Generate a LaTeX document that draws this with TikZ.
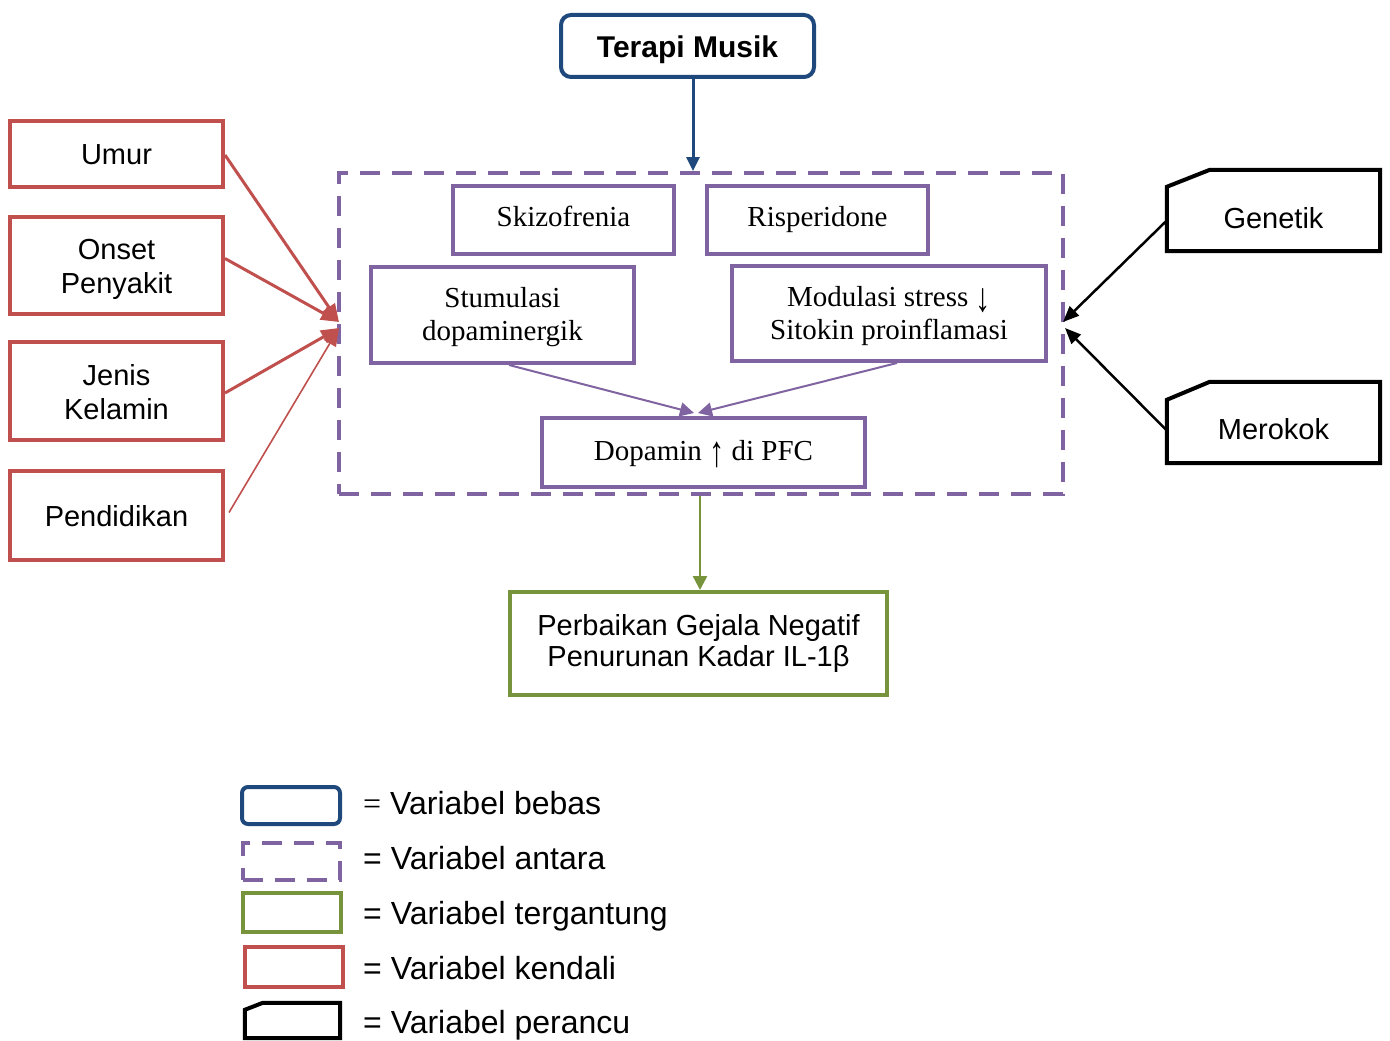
\documentclass[tikz,border=0pt]{standalone}
\usepackage{graphicx}
\usepackage{fontspec}
\setmainfont{Liberation Sans}
\newfontfamily\serif{Liberation Serif}
\usetikzlibrary{arrows.meta,calc}
\definecolor{cblue}{HTML}{1F497D}
\definecolor{cpurple}{HTML}{8064A2}
\definecolor{cgreen}{HTML}{77933C}
\definecolor{cred}{HTML}{C0504D}
% text line with zero size, caps centred on its baseline slot, shifted down by #1 pt
\newcommand{\ct}[2][0]{\raisebox{\dimexpr-\fontcharht\font72/2-#1pt\relax}[0pt][0pt]{#2}}
\newcommand{\uparr}{\raisebox{-6pt}{\scalebox{1.05}[1.5]{↑}}}
\newcommand{\downarr}{\raisebox{-5pt}{\scalebox{1.05}[1.4]{↓}}}
\begin{document}
\begin{tikzpicture}[x=1pt,y=-1pt,
  box/.style={draw,line width=4pt,inner sep=0pt,align=center,font=\fontsize{29}{34}\selectfont},
  ctrl/.style={box,draw=cred},
  inbox/.style={box,draw=cpurple,font=\serif\fontsize{29}{33}\selectfont},
  plain/.style={inner sep=0pt,align=center,font=\fontsize{29}{34}\selectfont},
  legtext/.style={inner sep=0pt,anchor=base west,font=\fontsize{32}{36}\selectfont},
  snipbox/.style={inner sep=0pt,draw=none},
  redarrow/.style={draw=cred,line width=3pt,-{Triangle[length=18pt,width=14pt]}},
  blackarrow/.style={draw=black,line width=2.5pt,-{Triangle[length=16pt,width=13pt]}},
  purplearrow/.style={draw=cpurple,line width=2pt,-{Triangle[length=14pt,width=14pt]}},
]
\useasboundingbox (0,0) rectangle (1390,1041);

% independent variable
\node[box,draw=cblue,rounded corners=10pt,minimum width=253pt,minimum height=62pt,
  font=\bfseries\fontsize{30}{34}\selectfont] (terapi) at (687.5,46) {\ct[1]{Terapi Musik}};

% intermediate (dashed) box
\node[draw=cpurple,line width=4pt,dash pattern=on 20pt off 12pt,inner sep=0pt,
  minimum width=724pt,minimum height=321pt] (med) at (701,333.5) {};

\node[inbox,minimum width=221pt,minimum height=68pt] (skizo) at (563.5,220) {\ct[-3.2]{Skizofrenia}};
\node[inbox,minimum width=221pt,minimum height=68pt] (risp) at (817.5,220) {\ct[-3]{Risperidone}};
\node[inbox,minimum width=263pt,minimum height=96pt] (stim) at (502.5,315) {\ct[-0.2]{Stumulasi}\\\ct[-0.2]{dopaminergik}};
\node[inbox,minimum width=314pt,minimum height=95pt] (modul) at (889,313.5) {\ct[-0.3]{Modulasi stress \downarr}\\\ct[-0.3]{Sitokin proinflamasi}};
\node[inbox,minimum width=323pt,minimum height=69pt] (dopa) at (703.5,452.5) {\ct[-1.5]{Dopamin \uparr{} di PFC}};

% dependent
\node[box,draw=cgreen,minimum width=377pt,minimum height=103pt,font=\fontsize{29}{31}\selectfont] (outc) at (698.5,643.5)
  {\ct[-2.5]{Perbaikan Gejala Negatif}\\\ct[-2.5]{Penurunan Kadar IL-1β}};

% control variables
\node[ctrl,minimum width=213pt,minimum height=66pt] (umur) at (116.5,154) {\ct[1]{Umur}};
\node[ctrl,minimum width=213pt,minimum height=97pt] (onset) at (116.5,265.5) {\ct[1.5]{Onset}\\\ct[1.5]{Penyakit}};
\node[ctrl,minimum width=213pt,minimum height=98pt] (jenis) at (116.5,391) {\ct[2]{Jenis}\\\ct[2]{Kelamin}};
\node[ctrl,minimum width=213pt,minimum height=89pt] (pend) at (116.5,515.5) {\ct[1.5]{Pendidikan}};

% confounders
\node[snipbox,minimum width=213pt,minimum height=81pt] (gen) at (1273.5,210.5) {};
\draw[line width=4pt,line join=miter] ($(gen.north west)+(0,17)$) -- ($(gen.north west)+(43,0)$)
  -- (gen.north east) -- (gen.south east) -- (gen.south west) -- cycle;
\node[plain] (gentxt) at (1273.5,219) {\ct{Genetik}};
\node[snipbox,minimum width=213pt,minimum height=81pt] (mer) at (1273.5,422.5) {};
\draw[line width=4pt,line join=miter] ($(mer.north west)+(0,18)$) -- ($(mer.north west)+(43,0)$)
  -- (mer.north east) -- (mer.south east) -- (mer.south west) -- cycle;
\node[plain] (mertxt) at (1273.5,430) {\ct{Merokok}};

% connector helper coordinates
\coordinate (bx) at (693,0);
\coordinate (gx) at (700,0);
\coordinate (tipL1) at (339,322);
\coordinate (tipL2) at (339,328);
\coordinate (tipR1) at (1063,322);
\coordinate (tipR2) at (1065,328);
\coordinate (tipD1) at (694,413);
\coordinate (tipD2) at (698,413);

% connectors
\draw[draw=cblue,line width=3pt,-{Triangle[length=14pt,width=13pt]}] (terapi.south -| bx) -- (med.north -| bx);
\draw[draw=cgreen,line width=2.5pt,-{Triangle[length=14pt,width=14pt]}] (med.south -| gx) -- (outc.north -| gx);
\draw[purplearrow] ($(stim.south)+(6.5,0)$) -- (tipD1);
\draw[purplearrow] ($(modul.south)+(8,0)$) -- (tipD2);
\draw[redarrow] ($(umur.east)+(0,1)$) -- (tipL1);
\draw[redarrow] ($(onset.east)+(0,-7)$) -- (tipL1);
\draw[redarrow] ($(jenis.east)+(0,2)$) -- (tipL2);
\draw[redarrow,line width=1.6pt] ($(pend.east)+(4,-3)$) -- (tipL2);
\draw[blackarrow] ($(gen.west)+(0,10)$) -- (tipR1);
\draw[blackarrow] ($(mer.west)+(0,8)$) -- (tipR2);

% legend
\node[draw=cblue,line width=4pt,rounded corners=6pt,minimum width=98pt,minimum height=37pt,inner sep=0pt] (lg1) at (291,805.5) {};
\node[draw=cpurple,line width=4pt,dash pattern=on 20pt off 12pt,minimum width=97pt,minimum height=37pt,inner sep=0pt] (lg2) at (291.5,861.5) {};
\node[draw=cgreen,line width=4pt,minimum width=98pt,minimum height=39pt,inner sep=0pt] (lg3) at (292,912.5) {};
\node[draw=cred,line width=4pt,minimum width=98pt,minimum height=40pt,inner sep=0pt] (lg4) at (294,967) {};
\node[snipbox,minimum width=95pt,minimum height=35pt] (lg5) at (292.5,1020.5) {};
\draw[line width=4pt,line join=miter] ($(lg5.north west)+(0,7)$) -- ($(lg5.north west)+(18,0)$)
  -- (lg5.north east) -- (lg5.south east) -- (lg5.south west) -- cycle;

\node[legtext] (lt1) at (363,814) {{\serif =} Variabel bebas};
\node[legtext] (lt2) at (363,869) {= Variabel antara};
\node[legtext] (lt3) at (363,924) {= Variabel tergantung};
\node[legtext] (lt4) at (363,979) {= Variabel kendali};
\node[legtext] (lt5) at (363,1033) {= Variabel perancu};
\end{tikzpicture}
\end{document}
